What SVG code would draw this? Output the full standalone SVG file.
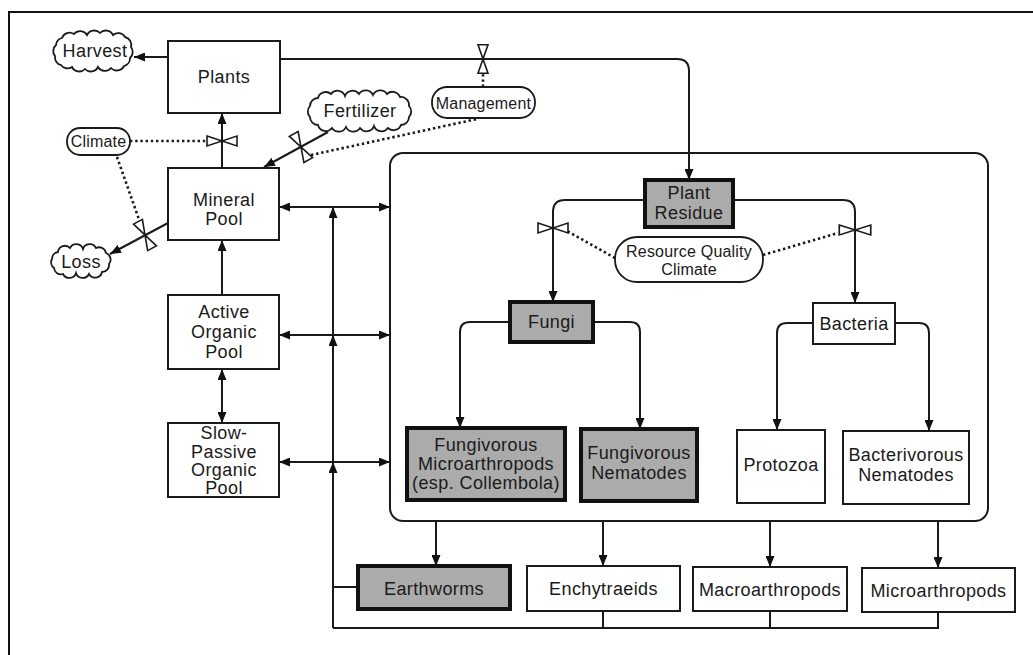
<svg xmlns="http://www.w3.org/2000/svg" width="1033" height="655" viewBox="0 0 1033 655">
<defs>
<marker id="ah" viewBox="0 0 11 9" refX="11" refY="4.5" markerWidth="11" markerHeight="9" markerUnits="userSpaceOnUse" orient="auto-start-reverse"><path d="M0,0 L11,4.5 L0,9 Z" fill="#111"/></marker>
<path id="valve" d="M-15,-5 L15,5 L15,-5 L-15,5 Z"/>
</defs>
<style>
text{font-family:"Liberation Sans",Arial,sans-serif;font-size:18px;fill:#1a1a1a;text-anchor:middle;letter-spacing:0.4px}
.sm{font-size:16px;letter-spacing:0.2px}
.box{fill:#fff;stroke:#1a1a1a;stroke-width:2}
.gbox{fill:#ababab;stroke:#111;stroke-width:4}
.cloud{fill:#fff;stroke:#1a1a1a;stroke-width:1.8}
.pill{fill:#fff;stroke:#1a1a1a;stroke-width:1.8}
.ln{fill:none;stroke:#1a1a1a;stroke-width:2}
.ar{marker-end:url(#ah)}
.dar{marker-start:url(#ah);marker-end:url(#ah)}
.dot{fill:none;stroke:#1a1a1a;stroke-width:2.6;stroke-dasharray:2.4 2.8}
.vl{fill:#fff;stroke:#1a1a1a;stroke-width:1.6;stroke-linejoin:miter}
</style>
<rect width="1033" height="655" fill="#fff"/>
<g id="frame"><path d="M9,655 V12 H1033" fill="none" stroke="#111" stroke-width="2"/></g>

<g id="container"><rect x="390" y="153" width="598" height="368" rx="13" fill="none" stroke="#1a1a1a" stroke-width="2"/></g>

<g id="connectors">
<line class="ln ar" x1="168" y1="57" x2="134" y2="57"/>
<path class="ln ar" d="M280,59 H677 Q689,59 689,71 V180"/>
<line class="ln ar" x1="222" y1="168" x2="222" y2="113"/>
<line class="ln ar" x1="328" y1="132" x2="264" y2="167"/>
<line class="ln ar" x1="168" y1="223" x2="110" y2="254"/>
<line class="ln ar" x1="222" y1="295" x2="222" y2="240"/>
<line class="ln dar" x1="222" y1="369" x2="222" y2="423"/>
<line class="ln dar" x1="279" y1="207" x2="390" y2="207"/>
<line class="ln dar" x1="279" y1="335" x2="390" y2="335"/>
<line class="ln dar" x1="279" y1="462" x2="390" y2="462"/>
<path class="ln" d="M938,612 V628 H333 M603,611 V628 M770,611 V628 M333,587 H358"/>
<line class="ln ar" x1="333" y1="628" x2="333" y2="462"/>
<line class="ln ar" x1="333" y1="462" x2="333" y2="335"/>
<line class="ln ar" x1="333" y1="335" x2="333" y2="207"/>
<path class="ln ar" d="M645,200 H565 Q553,200 553,212 V302"/>
<path class="ln ar" d="M733,200 H843 Q855,200 855,212 V303"/>
<path class="ln ar" d="M510,322 H470 Q460,322 460,332 V428"/>
<path class="ln ar" d="M593,322 H630 Q640,322 640,332 V429"/>
<path class="ln ar" d="M813,323 H787 Q777,323 777,333 V430"/>
<path class="ln ar" d="M895,323 H919 Q929,323 929,333 V431"/>
<line class="ln ar" x1="436" y1="521" x2="436" y2="566"/>
<line class="ln ar" x1="603" y1="521" x2="603" y2="566"/>
<line class="ln ar" x1="770" y1="521" x2="770" y2="567"/>
<line class="ln ar" x1="938" y1="521" x2="938" y2="568"/>
<line class="dot" x1="130" y1="141" x2="207" y2="141"/>
<line class="dot" x1="117" y1="157" x2="142" y2="228"/>
<line class="dot" x1="311" y1="155" x2="477" y2="119"/>
<line class="dot" x1="483" y1="87" x2="483" y2="74"/>
<line class="dot" x1="615" y1="258" x2="567" y2="231"/>
<line class="dot" x1="763" y1="255" x2="838" y2="233"/>
</g>

<g id="valves">
<use href="#valve" class="vl" transform="translate(222,141)"/>
<use href="#valve" class="vl" transform="translate(483,59) rotate(90) scale(0.95,1)"/>
<use href="#valve" class="vl" transform="translate(301,147) rotate(61)"/>
<use href="#valve" class="vl" transform="translate(145,235) rotate(62)"/>
<use href="#valve" class="vl" transform="translate(553,228)"/>
<use href="#valve" class="vl" transform="translate(855,230) scale(1.05,1)"/>
</g>

<g id="harvest"><path class="cloud" d="M62,38 A8,8 0 0 1 74,34 A8,8 0 0 1 87,35 A8,8 0 0 1 100,33 A8,8 0 0 1 113,35 A8,8 0 0 1 125,37 A8,8 0 0 1 131,47 A8,8 0 0 1 130,58 A8,8 0 0 1 124,66 A8,8 0 0 1 111,68 A8,8 0 0 1 98,67 A8,8 0 0 1 85,69 A8,8 0 0 1 72,67 A8,8 0 0 1 61,65 A8,8 0 0 1 55,56 A8,8 0 0 1 56,45 A8,8 0 0 1 62,38 Z"/><text x="95" y="57">Harvest</text></g>
<g id="loss"><path class="cloud" d="M58,252 A7,7 0 0 1 70,248 A7,7 0 0 1 83,249 A7,7 0 0 1 96,248 A7,7 0 0 1 106,253 A7,7 0 0 1 109,264 A7,7 0 0 1 102,272 A7,7 0 0 1 89,274 A7,7 0 0 1 76,273 A7,7 0 0 1 63,274 A7,7 0 0 1 54,268 A7,7 0 0 1 52,259 A7,7 0 0 1 58,252 Z"/><text x="81" y="268">Loss</text></g>
<g id="fertilizer"><path class="cloud" d="M318,98 A8,8 0 0 1 331,94 A8,8 0 0 1 345,96 A8,8 0 0 1 359,94 A8,8 0 0 1 373,95 A8,8 0 0 1 387,94 A8,8 0 0 1 400,97 A8,8 0 0 1 409,106 A8,8 0 0 1 409,117 A8,8 0 0 1 401,125 A8,8 0 0 1 388,128 A8,8 0 0 1 374,126 A8,8 0 0 1 360,128 A8,8 0 0 1 346,127 A8,8 0 0 1 332,128 A8,8 0 0 1 318,125 A8,8 0 0 1 310,117 A8,8 0 0 1 310,106 A8,8 0 0 1 318,98 Z"/><text x="360" y="117">Fertilizer</text></g>
<g id="climate"><rect class="pill" x="67" y="128" width="63" height="27" rx="13"/><text class="sm" x="98.5" y="147">Climate</text></g>
<g id="management"><rect class="pill" x="432" y="87" width="103" height="31" rx="15"/><text class="sm" x="483.5" y="108.5">Management</text></g>
<g id="resource"><rect class="pill" x="615" y="237" width="148" height="45" rx="22"/><text class="sm" x="689" y="257">Resource Quality</text><text class="sm" x="689" y="275">Climate</text></g>

<g id="plants"><rect class="box" x="168" y="41" width="112" height="72"/><text x="224" y="83">Plants</text></g>
<g id="mineral"><rect class="box" x="168" y="168" width="111" height="72"/><text x="224" y="206">Mineral</text><text x="224" y="225">Pool</text></g>
<g id="active"><rect class="box" x="168" y="295" width="111" height="74"/><text x="224" y="318">Active</text><text x="224" y="338">Organic</text><text x="224" y="358">Pool</text></g>
<g id="slow"><rect class="box" x="168" y="423" width="111" height="74"/><text x="224" y="439">Slow-</text><text x="224" y="458">Passive</text><text x="224" y="476">Organic</text><text x="224" y="494">Pool</text></g>

<g id="plant-residue"><rect class="gbox" x="645" y="180" width="88" height="47"/><text x="689" y="199">Plant</text><text x="689" y="219">Residue</text></g>
<g id="fungi"><rect class="gbox" x="510" y="302" width="83" height="40"/><text x="551.5" y="328">Fungi</text></g>
<g id="bacteria"><rect class="box" x="813" y="303" width="82" height="41"/><text x="854" y="330">Bacteria</text></g>
<g id="fung-micro"><rect class="gbox" x="407" y="428" width="158" height="72"/><text x="486" y="451">Fungivorous</text><text x="486" y="470">Microarthropods</text><text x="486" y="489">(esp. Collembola)</text></g>
<g id="fung-nema"><rect class="gbox" x="581" y="429" width="116" height="72"/><text x="639" y="459">Fungivorous</text><text x="639" y="479">Nematodes</text></g>
<g id="protozoa"><rect class="box" x="737" y="430" width="88" height="73"/><text x="781" y="471">Protozoa</text></g>
<g id="bact-nema"><rect class="box" x="843" y="431" width="126" height="73"/><text x="906" y="461">Bacterivorous</text><text x="906" y="481">Nematodes</text></g>

<g id="earthworms"><rect class="gbox" x="358" y="566" width="152" height="43"/><text x="434" y="595">Earthworms</text></g>
<g id="enchytraeids"><rect class="box" x="527" y="566" width="153" height="45"/><text x="603.5" y="595">Enchytraeids</text></g>
<g id="macro"><rect class="box" x="693" y="567" width="154" height="44"/><text x="770" y="596">Macroarthropods</text></g>
<g id="micro"><rect class="box" x="862" y="568" width="153" height="44"/><text x="938.5" y="597">Microarthropods</text></g>
</svg>
